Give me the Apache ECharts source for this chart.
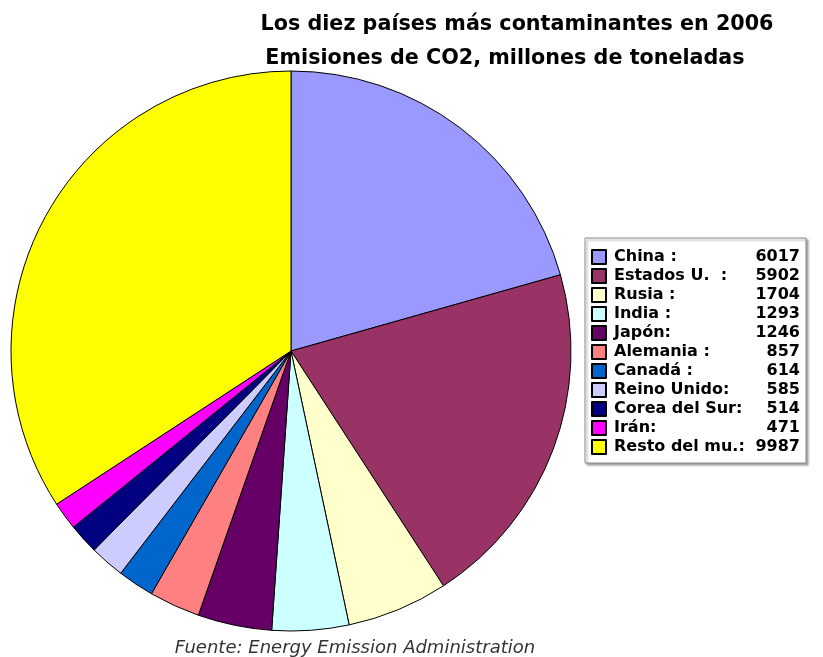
<!DOCTYPE html>
<html>
<head>
<meta charset="utf-8">
<script src="https://cdn.jsdelivr.net/npm/echarts@6/dist/echarts.min.js"></script>
<style>
  html, body { margin: 0; padding: 0; background: #fff; }
  #chart { width: 823px; height: 657px; }
</style>
</head>
<body>
<div id="chart"></div>
<script>
// legend text as it appears in the picture
const countries = ['China :', 'Estados U.  :', 'Rusia :', 'India :', 'Japón:', 'Alemania :', 'Canadá :', 'Reino Unido:', 'Corea del Sur:', 'Irán:', 'Resto del mu.:'];
const emissions = [6017, 5902, 1704, 1293, 1246, 857, 614, 585, 514, 471, 9987];
const sliceColors = ['#9999ff', '#993366', '#ffffcc', '#ccffff', '#660066', '#ff8080', '#0066cc', '#ccccff', '#000080', '#ff00ff', '#ffff00'];

const font = 'DejaVu Sans';
const chart = echarts.init(document.getElementById('chart'));

const pieData = countries.map((name, i) => ({
    name,
    value: emissions[i],
    itemStyle: { color: sliceColors[i] },
}));

chart.setOption({
    animation: false,
    title: [
        {
            text: 'Los diez países más contaminantes en 2006',
            left: 512,
            top: 9,
            textAlign: 'center',
            textStyle: { fontFamily: font, fontWeight: 'bold', fontSize: 20.7, color: '#000' },
        },
        {
            text: 'Emisiones de CO2, millones de toneladas',
            left: 500,
            top: 43,
            textAlign: 'center',
            textStyle: { fontFamily: font, fontWeight: 'bold', fontSize: 20.7, color: '#000' },
        },
        {
            text: 'Fuente: Energy Emission Administration',
            left: 350,
            top: 634,
            textAlign: 'center',
            textStyle: { fontFamily: font, fontStyle: 'italic', fontWeight: 'normal', fontSize: 18, color: '#333' },
        },
    ],
    legend: {
        orient: 'vertical',
        left: 585,
        top: 238,
        padding: [11, 6, 8, 6],
        itemWidth: 14,
        itemHeight: 14,
        itemGap: 3,
        icon: 'rect',
        selectedMode: false,
        backgroundColor: '#fff',
        borderColor: '#888',
        borderWidth: 1,
        shadowColor: 'rgba(0,0,0,0.35)',
        shadowOffsetX: 2,
        shadowOffsetY: 2,
        shadowBlur: 2,
        formatter: (name) => {
            const i = countries.indexOf(name);
            return `{n|${name}}{v|${emissions[i]}}`;
        },
        textStyle: {
            fontFamily: font,
            fontWeight: 'bold',
            fontSize: 16,
            color: '#000',
            rich: {
                n: { fontFamily: font, fontWeight: 'bold', fontSize: 16, lineHeight: 16, width: 136, padding: [0, 0, 0, 3], color: '#000' },
                v: { fontFamily: font, fontWeight: 'bold', fontSize: 16, lineHeight: 16, width: 50, align: 'right', color: '#000' },
            },
        },
        data: countries,
    },
    series: [
        {
            type: 'pie',
            center: [291, 351],
            radius: 280,
            startAngle: 90,
            clockwise: true,
            label: { show: false },
            labelLine: { show: false },
            itemStyle: { borderColor: '#000', borderWidth: 1 },
            emphasis: { disabled: true },
            data: pieData,
        },
    ],
});
</script>
</body>
</html>
